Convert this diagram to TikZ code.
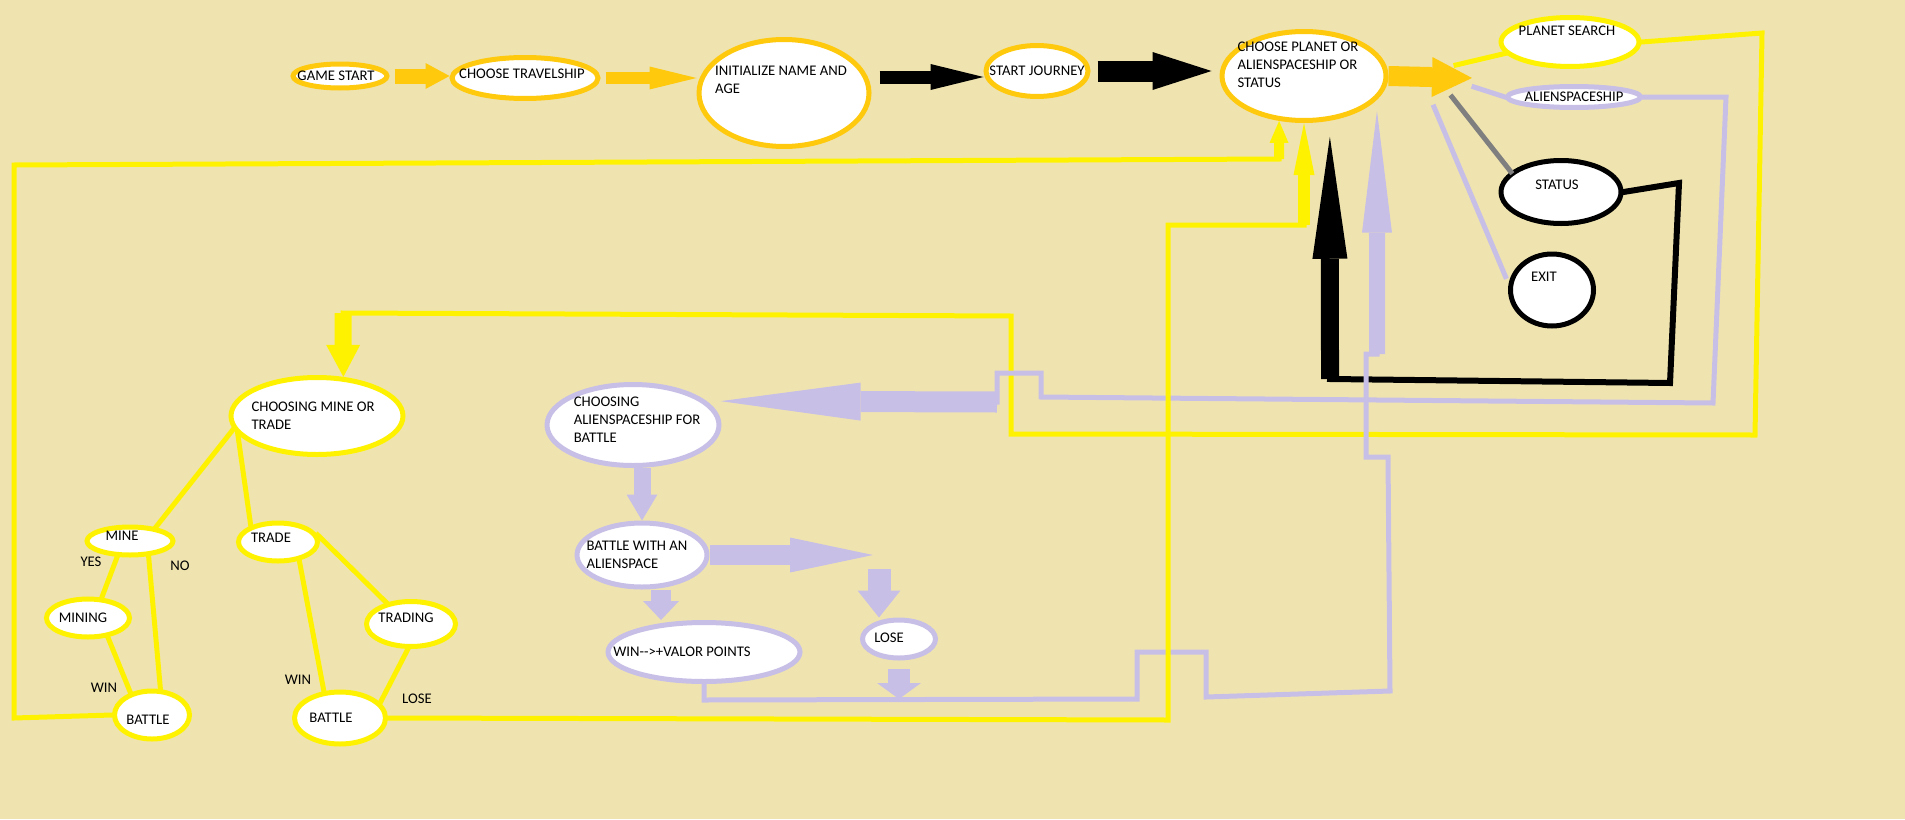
\documentclass[tikz,border=0pt]{standalone}
\usepackage{fontspec}
\setmainfont{Carlito}
\usetikzlibrary{arrows.meta,shapes.geometric}
\definecolor{paintbg}{RGB}{239,228,176}
\definecolor{paintgold}{RGB}{255,201,14}
\definecolor{paintyellow}{RGB}{255,242,0}
\definecolor{paintlav}{RGB}{200,191,231}
\definecolor{paintgray}{RGB}{127,127,127}
\newcommand{\tx}{\fontsize{14.7pt}{18pt}\selectfont}
\tikzset{
  bub/.style={ellipse, draw=#1, fill=white, line width=5pt, inner sep=0pt},
  txt/.style={font=\tx, align=left, inner sep=0pt},
  wire/.style={draw=#1, line width=5pt, line cap=rect},
  fat/.style args={#1/#2/#3}{line width=#1, -{Triangle[length=#2,width=#3,line width=0pt]}}
}

\begin{document}
\begin{tikzpicture}[x=1pt,y=-1pt]
\useasboundingbox (0,0) rectangle (1905,819);
\fill[paintbg] (0,0) rectangle (1905,819);

% top row
\node[bub=paintgold, minimum width=94pt, minimum height=24pt, label={[txt,xshift=-4pt]center:GAME START}] (gstart) at (340,76) {};
\node[bub=paintgold, minimum width=146pt, minimum height=41pt, label={[txt,xshift=-3pt,yshift=4pt]center:CHOOSE TRAVELSHIP}] (travel) at (525,78) {};
\node[bub=paintgold, minimum width=170pt, minimum height=107pt, label={[txt,xshift=-3pt,yshift=13pt]center:INITIALIZE NAME AND\\AGE}] (init) at (784,93) {};
\node[bub=paintgold, minimum width=102pt, minimum height=51pt, label={[txt]center:START JOURNEY}] (journey) at (1037,71) {};
\node[bub=paintgold, minimum width=164pt, minimum height=89pt, label={[txt,xshift=-6pt,yshift=11pt]center:CHOOSE PLANET OR\\ALIENSPACESHIP OR\\STATUS}] (cplan) at (1304,76) {};

% menu
\node[bub=paintyellow, minimum width=138pt, minimum height=49pt, label={[txt,xshift=-3pt,yshift=11pt]center:PLANET SEARCH}] (psearch) at (1570,42) {};
\node[bub=paintlav, minimum width=133pt, minimum height=21pt, label={[txt]center:ALIENSPACESHIP}] (alien) at (1574,97) {};
\node[bub=black, minimum width=120pt, minimum height=63pt, label={[txt,xshift=-4pt,yshift=7pt]center:STATUS}] (status) at (1561,192) {};
\node[bub=black, minimum width=83pt, minimum height=72pt, label={[txt,xshift=-8pt,yshift=13pt]center:EXIT}] (exitn) at (1552,290) {};

% planet branch
\node[bub=paintyellow, minimum width=172pt, minimum height=77pt, label={[txt,xshift=-4pt]center:CHOOSING MINE OR\\TRADE}] (cmt) at (317,416) {};
\node[bub=paintyellow, minimum width=86pt, minimum height=28pt, label={[txt,xshift=-8pt,yshift=5pt]center:MINE}] (mine) at (130,541) {};
\node[bub=paintyellow, minimum width=83pt, minimum height=38pt, label={[txt,xshift=-5pt]center:MINING}] (mining) at (88,618) {};
\node[bub=paintyellow, minimum width=75pt, minimum height=48pt, label={[txt,xshift=-4pt,yshift=-5pt]center:BATTLE}] (battleL) at (152,715) {};
\node[bub=paintyellow, minimum width=79pt, minimum height=38pt, label={[txt,xshift=-7pt,yshift=4pt]center:TRADE}] (trade) at (278,542) {};
\node[bub=paintyellow, minimum width=89pt, minimum height=45pt, label={[txt,xshift=-5pt,yshift=6pt]center:TRADING}] (trading) at (411,624) {};
\node[bub=paintyellow, minimum width=91pt, minimum height=52pt, label={[txt,xshift=-9pt]center:BATTLE}] (battleR) at (340,718) {};

% alien branch
\node[bub=paintlav, minimum width=172pt, minimum height=81pt, label={[txt,xshift=4pt,yshift=5pt]center:CHOOSING\\ALIENSPACESHIP FOR\\BATTLE}] (cab) at (633,425) {};
\node[bub=paintlav, minimum width=130pt, minimum height=64pt, label={[txt,xshift=-5pt]center:BATTLE WITH AN\\ALIENSPACE}] (bwa) at (642,555) {};
\node[bub=paintlav, minimum width=192pt, minimum height=59pt, label={[txt,xshift=-22pt]center:WIN-{}->+VALOR POINTS}] (win) at (704,652) {};
\node[bub=paintlav, minimum width=73pt, minimum height=38pt, label={[txt,xshift=-10pt,yshift=1pt]center:LOSE}] (lose) at (899,639) {};

% loose labels
\node[txt] (yes) at (91,562) {YES};
\node[txt] (no) at (180,566) {NO};
\node[txt] (winL) at (104,688) {WIN};
\node[txt] (winR) at (298,680) {WIN};
\node[txt] (loseR) at (417,699) {LOSE};

% free ends
\coordinate (jin) at ([yshift=-6pt]journey.west);
\coordinate (fan) at (1472,78);
\coordinate (fanY) at (1456,65);
\coordinate (fanL) at (1474,87);
\coordinate (fanG) at (1452,97);
\coordinate (fanE) at (1434,107);
\coordinate (mtop) at (343,313);
\coordinate (abig) at (997,402);
\coordinate (sbot) at (1330,379);
\coordinate (lup) at (1377,354);
\coordinate (yup) at (1304,225);
\coordinate (yup2) at (1279,159);
\coordinate (ltop) at (879,569);
\coordinate (lbot) at (899,699);
\coordinate (bwin) at (873,555);

% top chain
\draw[paintgold, fat=15pt/24pt/26pt, shorten <=5pt] (gstart.east) -- (gstart.east -| travel.west);
\draw[paintgold, fat=12pt/47pt/23pt, shorten <=5pt] (travel.east) -- (travel.east -| init.west);
\draw[black, fat=13pt/53pt/26pt, shorten <=8pt] (init.east |- jin) -- (jin);
\draw[black, fat=21pt/59pt/38pt, shorten <=7pt, shorten >=8pt] (journey.east) -- (journey.east -| cplan.west);
\draw[paintgold, fat=20pt/40pt/40pt] (cplan.east) -- (fan);

% menu wires
\draw[wire=paintyellow] (fanY) -- (psearch.190);
\draw[wire=paintlav] (fanL) -- (alien.west);
\draw[wire=paintgray] (fanG) -- (status.158);
\draw[wire=paintlav, shorten >=8pt] (fanE) -- (exitn.172);

% back loops
\draw[wire=paintyellow] (psearch.east) -- (1762,33) -- (1755,435) -- (1011,434) -- (1011,316) -- (mtop);
\draw[paintyellow, fat=17pt/32pt/34pt] (mtop) -- (cmt.56);
\draw[wire=paintlav] (alien.east) -- (1726,97) -- (1713,403) -- (1041,397) -- (1041,373) -- (997,373) -- (abig);
\draw[paintlav, fat=21pt/140pt/38pt, shorten >=14pt] (abig) -- (cab.18);
\draw[wire=black, line width=6pt] (status.east) -- (1679,183) -- (1670,383) -- (sbot);
\draw[black, fat=18pt/122pt/35pt, shorten >=16pt] (sbot) -- (cplan.-60);
\draw[wire=paintlav] (win.south) -- (704,700) -- (1137,699) -- (1137,652) -- (1206,652) -- (1206,697) -- (1390,691) -- (1388,457) -- (1366,457) -- (1366,354) -- (lup);
\draw[paintlav, fat=16pt/122pt/30pt, shorten >=11pt] (lup) -- (cplan.-18);
\draw[wire=paintyellow] (battleR.east) -- (1168,720) -- (1168,225) -- (yup);
\draw[paintyellow, fat=12pt/52pt/21pt] (yup) -- (cplan.south);
\draw[wire=paintyellow] (battleL.west) -- (14,718) -- (14,165) -- (yup2);
\draw[paintyellow, fat=10pt/22pt/19pt] (yup2) -- (cplan.-119);

% alien battle
\draw[paintlav, fat=17pt/26pt/31pt] (cab.south -| bwa.north) -- (bwa.north);
\draw[paintlav, fat=20pt/19pt/36pt] ([xshift=19pt]bwa.south) -- ([xshift=-43pt]win.north);
\draw[paintlav, fat=20pt/83pt/35pt] (bwa.east) -- (bwin);
\draw[paintlav, fat=23pt/27pt/43pt] (ltop) -- ([xshift=-20pt]lose.north);
\draw[paintlav, fat=22pt/16pt/44pt, shorten <=8pt] (lose.south) -- (lbot);

% planet tree
\draw[wire=paintyellow] (cmt.189) -- (mine.28);
\draw[wire=paintyellow] (cmt.193) -- (trade.149);
\draw[wire=paintyellow] (mine.-129) -- (mining.56);
\draw[wire=paintyellow] (mine.-39) -- (battleL.72);
\draw[wire=paintyellow] (mining.-44) -- (battleL.134);
\draw[wire=paintyellow] (trade.10) -- (trading.139);
\draw[wire=paintyellow] (trade.-41) -- (battleR.121);
\draw[wire=paintyellow] (trading.-97) -- (battleR.21);
\end{tikzpicture}
\end{document}
